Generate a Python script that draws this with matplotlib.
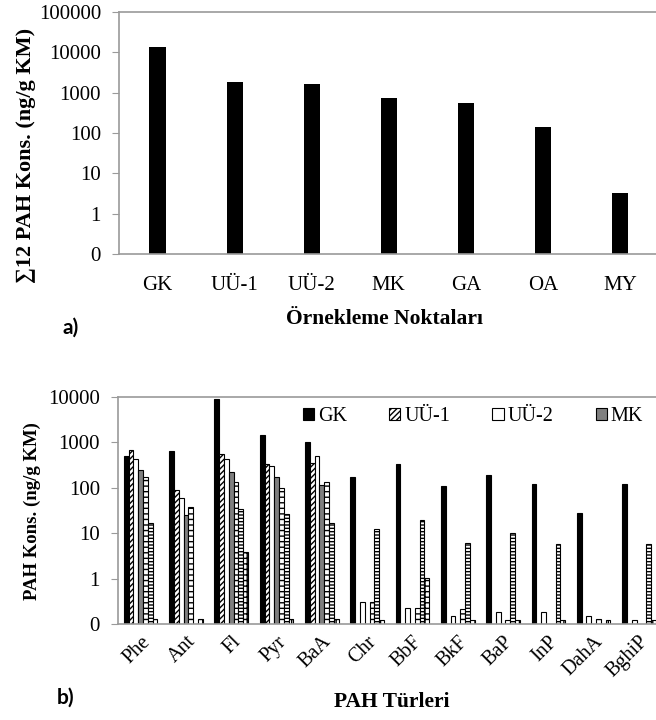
import numpy as np
import matplotlib
matplotlib.use("Agg")
import matplotlib.pyplot as plt
from matplotlib.ticker import FixedLocator, NullLocator

plt.rcParams['font.family'] = ['Liberation Serif', 'DejaVu Serif']
plt.rcParams['hatch.linewidth'] = 1.0

# panel a: total of 12 PAH per site
sites = ["GK", "UÜ-1", "UÜ-2", "MK", "GA", "OA", "MY"]
total = [13500, 1860, 1610, 730, 550, 138, 3.3]

# panel b: per PAH compound, per site
pahs = ["Phe", "Ant", "Fl", "Pyr", "BaA", "Chr", "BbF", "BkF", "BaP", "InP", "DahA", "BghiP"]
gk = [500, 650, 8800, 1450, 1000, 175, 330, 110, 190, 120, 27.5, 120]
uu1 = [680, 90, 550, 325, 345, 0, 0, 0, 0, 0, 0, 0]
uu2 = [430, 59, 430, 300, 500, 0.30, 0.23, 0.15, 0.18, 0.18, 0.15, 0.12]
mk = [245, 25, 225, 175, 115, 0, 0, 0, 0, 0, 0, 0]
ga = [175, 38, 132, 100, 130, 0.31, 0.22, 0.21, 0.12, 0, 0.13, 0]
oa = [16.6, 0, 34, 26, 16.6, 12.2, 19.5, 6.0, 10, 5.8, 0, 5.8]
my = [0.13, 0.13, 3.8, 0.13, 0.13, 0.12, 1.05, 0.12, 0.12, 0.12, 0.12, 0.12]

series = [("GK", gk), ("UÜ-1", uu1), ("UÜ-2", uu2), ("MK", mk),
          ("GA", ga), ("OA", oa), ("MY", my)]
styles = [dict(color="black", hatch=None),
          dict(color="white", hatch="//////"),
          dict(color="white", hatch=None),
          dict(color="#7f7f7f", hatch=None),
          dict(color="white", hatch="---"),
          dict(color="white", hatch="-----"),
          dict(color="white", hatch="+++")]

grey = "#9a9a9a"
W, H = 656, 720
fig = plt.figure(figsize=(W / 100, H / 100), dpi=100)


def px_axes(left, top, right, bottom):
    return fig.add_axes([left / W, 1 - bottom / H, (right - left) / W, (bottom - top) / H])


def style_axes(ax, top_val, labels):
    ax.set_yscale("log")
    ax.set_ylim(0.1, top_val)
    ticks = [10.0 ** k for k in range(-1, int(np.log10(top_val)) + 1)]
    ax.yaxis.set_major_locator(FixedLocator(ticks))
    ax.yaxis.set_minor_locator(NullLocator())
    ax.set_yticklabels(labels, fontsize=15)
    for s in ["left", "bottom", "top"]:
        ax.spines[s].set_color(grey)
        ax.spines[s].set_linewidth(1.2)
    ax.spines["right"].set_visible(False)
    ax.tick_params(axis="y", direction="out", length=5, color=grey, pad=8)
    ax.tick_params(axis="x", length=0)


# ---- panel a
ax1 = px_axes(119, 12, 658.5, 254)
x1 = np.arange(len(sites))
ax1.bar(x1, total, width=0.21, color="black")
ax1.set_xlim(-0.5, len(sites) - 0.5)
style_axes(ax1, 100000, ["0", "1", "10", "100", "1000", "10000", "100000"])
ax1.set_xticks(x1)
ax1.set_xticklabels(sites, fontsize=15)
ax1.tick_params(axis="x", pad=16)
fig.text(26 / W, 1 - 155 / H, "∑12 PAH Kons. (ng/g KM)", rotation=90, fontsize=16,
         fontweight="bold", ha="center", va="center")
fig.text(385 / W, 1 - 319 / H, "Örnekleme Noktaları", fontsize=15.5, fontweight="bold",
         ha="center", va="center")
fig.text(71 / W, 1 - 328 / H, "a)", fontsize=15, fontweight="bold", family="Lato",
         ha="center", va="center")

# ---- panel b
ax2 = px_axes(118, 396.7, 661.6, 624)
x2 = np.arange(len(pahs))
bw = 0.106
bars = []
for k, ((name, vals), st) in enumerate(zip(series, styles)):
    b = ax2.bar(x2 + (k - 3) * bw, vals, width=bw, color=st["color"], hatch=st["hatch"],
                edgecolor="black", linewidth=0.8, label=name)
    bars.append(b)
ax2.set_xlim(-0.5, len(pahs) - 0.5)
style_axes(ax2, 10000, ["0", "1", "10", "100", "1000", "10000"])
ax2.set_xticks(x2)
ax2.set_xticklabels(pahs, fontsize=14.5, rotation=45, ha="right", rotation_mode="anchor")
ax2.tick_params(axis="x", pad=6)
# only the first four legend entries fit inside the picture
ax2.legend(bars[:4], [s[0] for s in series[:4]], ncol=4, loc="center left",
           bbox_to_anchor=(0.34, 0.912), frameon=False,
           fontsize=14.5, handlelength=0.55, handleheight=0.55, handletextpad=0.2,
           columnspacing=2.1, borderpad=0, borderaxespad=0)
fig.text(32 / W, 1 - 511 / H, "PAH Kons. (ng/g KM)", rotation=90, fontsize=13.5,
         fontweight="bold", ha="center", va="center")
fig.text(392 / W, 1 - 702 / H, "PAH Türleri", fontsize=15.5, fontweight="bold",
         ha="center", va="center")
fig.text(66 / W, 1 - 698 / H, "b)", fontsize=15, fontweight="bold", family="Lato",
         ha="center", va="center")

fig.savefig("out.png", dpi=100)
